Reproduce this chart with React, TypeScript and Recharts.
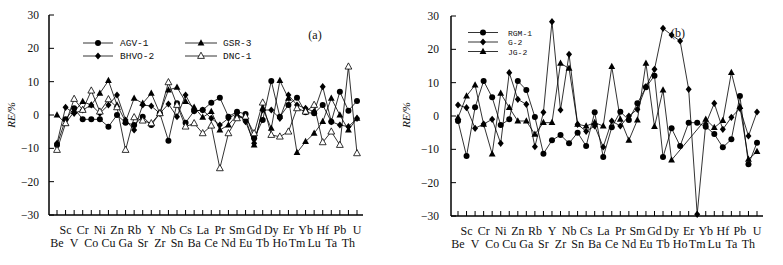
import React from "react";
import { LineChart, Line, XAxis, YAxis } from "recharts";

const ELEMENTS = ["Be", "Sc", "V", "Cr", "Co", "Ni", "Cu", "Zn", "Ga", "Rb", "Sr", "Y", "Zr", "Nb", "Sn", "Cs", "Ba", "La", "Ce", "Pr", "Nd", "Sm", "Eu", "Gd", "Tb", "Dy", "Ho", "Er", "Tm", "Yb", "Lu", "Hf", "Ta", "Pb", "Th", "U"];
const Y_TICKS = [-30, -20, -10, 0, 10, 20, 30];

// panel (a)
const AGV1 = [-9, -1.3, 2, -1.3, -1.3, -1.3, -3.5, 0, -2.3, -3, -0.5, -3, 0.5, -7.7, 3.5, -2.3, 1.2, 1.5, 3.7, 5.2, -0.5, 1, 0.3, -7, -1.5, 10.2, -0.5, 3, 5.2, 0.8, 0.5, 3, -2, 7, 1.3, 4.2];
const BHVO2 = [-8.5, 2.3, 0.5, 1.5, 3, 0.5, 3, 6, -1.5, -4.5, 3, 2.7, 0.5, 3.3, -0.5, 6, 1.2, 1.5, -1, -3, -1, 0.5, -2, -8.5, 1.5, 1.5, -1, 6, 3, 2, 1, 8.5, -2, -3, -3.5, -1];
const GSR3 = [0, -2.5, 1, 4, 3, 6.5, 10.3, 3, -2, 5, 3.5, 6.5, 0.5, 7.5, 8.3, 4, 2.3, -0.7, 1, -4.5, -3, 0, -1, -9, 2, -4, 10.3, 5, -11.3, -8, -5.5, -2, 5, 0, -4.5, -1];
const DNC1 = [-10.5, -2.5, 4.8, 1.5, 7.3, 1, 4.7, 2.3, -10.5, -0.7, -1.7, -2.5, 0.5, 9.8, 3, -3.5, -2.5, -5.5, -3.2, -16, -5.5, -1, -0.5, -5.5, 3.7, -6, -6.5, -5, 2, 1, 3, -8.2, -5, -9, 14.5, -11.5];

// panel (b)
const RGM1 = [-1.5, -12, 2.6, 10.5, 5.6, -2.7, -1, 10.5, 7.8, -0.3, -11.3, -7.3, -5.7, -8.2, -5, -9, 1.1, -12.3, -3.4, 1.3, -1.2, 3.8, 8.6, 12.1, -12.3, -3.7, -9, -2, -2, -3.2, -5.4, -9.4, -7, 6, -14.5, -8];
const G2 = [3.3, 2.5, -3.7, -2.4, -1, -8.2, 13, 5, 3.5, -9.2, 1.1, 28.3, 1.8, 18.5, -2.5, -4.6, -3, -9.3, -1.5, -3, 0, 2, 8.8, 14, 26.3, 24.3, 22.5, 8, -29.5, -2.4, 3.8, -4, -0.4, 2.3, -6, 1.2];
const JG2 = [-0.5, 6, 9.3, -2.5, -11.4, 6.8, 2.5, -1.5, -1.5, -5.5, -2, -2, 15.8, 14.3, -2.5, -3, -2, -3, 14.8, -1, -7.3, -1.2, 15.8, -3.2, 7.8, -13.2, null, null, null, -1, -3.5, -1.4, 13, 2.8, -13, -10.7];

type Shape = "circle" | "diamond" | "tri" | "openTri";

interface SeriesDef {
  key: string;
  name: string;
  shape: Shape;
  values: (number | null)[];
}

const seriesA: SeriesDef[] = [
  { key: "agv", name: "AGV-1", shape: "circle", values: AGV1 },
  { key: "bhvo", name: "BHVO-2", shape: "diamond", values: BHVO2 },
  { key: "gsr", name: "GSR-3", shape: "tri", values: GSR3 },
  { key: "dnc", name: "DNC-1", shape: "openTri", values: DNC1 },
];

const seriesB: SeriesDef[] = [
  { key: "rgm", name: "RGM-1", shape: "circle", values: RGM1 },
  { key: "g2", name: "G-2", shape: "diamond", values: G2 },
  { key: "jg2", name: "JG-2", shape: "tri", values: JG2 },
];

const buildRows = (series: SeriesDef[]) =>
  ELEMENTS.map((el, i) => {
    const row: Record<string, string | number | null> = { el };
    series.forEach((s) => (row[s.key] = s.values[i]));
    return row;
  });

const marker = (shape: Shape, cx: number, cy: number, key: string) => {
  if (shape === "circle") return <circle key={key} cx={cx} cy={cy} r={3} fill="#000" />;
  if (shape === "diamond")
    return <polygon key={key} points={`${cx},${cy - 3.6} ${cx + 3},${cy} ${cx},${cy + 3.6} ${cx - 3},${cy}`} fill="#000" />;
  const pts = `${cx},${cy - 3.8} ${cx + 3.4},${cy + 2.4} ${cx - 3.4},${cy + 2.4}`;
  if (shape === "tri") return <polygon key={key} points={pts} fill="#000" />;
  return <polygon key={key} points={pts} fill="#fff" stroke="#000" strokeWidth={0.8} />;
};

const makeDot = (shape: Shape, id: string) => (props: any) => {
  const { cx, cy, index } = props;
  if (cx == null || cy == null || props.value == null) return <g key={`${id}-${index}`} />;
  return marker(shape, cx, cy, `${id}-${index}`);
};

const XTick = (props: any) => {
  const { x, y, payload, index } = props;
  const top = index % 2 === 1;
  return (
    <g>
      <line x1={x} y1={y} x2={x} y2={y - 5} stroke="#000" strokeWidth={1} />
      <text x={x} y={y + (top ? 19 : 32)} textAnchor="middle" fontSize={12} fontFamily="Liberation Serif" fill="#111">
        {payload.value}
      </text>
    </g>
  );
};

const makeYTick = (gap: number) => (props: any) => {
  const { x, y, payload } = props;
  const v = payload.value as number;
  return (
    <g>
      <line x1={x} y1={y} x2={x + 5} y2={y} stroke="#000" strokeWidth={1} />
      <text x={x - gap} y={y + 4} textAnchor="end" fontSize={11.5} fontFamily="Liberation Serif" fill="#111">
        {v < 0 ? `\u2212${-v}` : v}
      </text>
    </g>
  );
};

interface LegendRow {
  shape: Shape;
  name: string;
  x1: number;
  x2: number;
  y: number;
  tx: number;
}

interface PanelProps {
  left: number;
  width: number;
  plotLeft: number;
  plotRight: number;
  plotTop: number;
  plotBottom: number;
  padL: number;
  padR: number;
  labelGap: number;
  series: SeriesDef[];
  tag: string;
  tagX: number;
  tagY: number;
  legend: LegendRow[];
  legendFont: number;
  yLabelX: number;
}

const Panel = (p: PanelProps) => {
  const data = buildRows(p.series);
  const H = 265;
  return (
    <div style={{ position: "absolute", left: p.left, top: 0, width: p.width, height: H }}>
      <LineChart
        width={p.width}
        height={H}
        data={data}
        margin={{ top: p.plotTop, right: p.width - p.plotRight, bottom: 0, left: 0 }}
      >
        <XAxis
          dataKey="el"
          interval={0}
          height={H - p.plotBottom}
          padding={{ left: p.padL, right: p.padR }}
          tickSize={0}
          tickMargin={0}
          tickLine={false}
          tick={XTick}
          axisLine={{ stroke: "#000", strokeWidth: 1.5 }}
        />
        <XAxis
          xAxisId="top"
          dataKey="el"
          orientation="top"
          height={0}
          tick={false}
          tickLine={false}
          axisLine={{ stroke: "#000", strokeWidth: 1.5 }}
        />
        <YAxis
          type="number"
          domain={[-30, 30]}
          ticks={Y_TICKS}
          width={p.plotLeft}
          tickSize={0}
          tickMargin={0}
          tickLine={false}
          tick={makeYTick(p.labelGap)}
          axisLine={{ stroke: "#000", strokeWidth: 1.5 }}
        />
        <YAxis
          yAxisId="right"
          orientation="right"
          domain={[-30, 30]}
          width={0}
          tick={false}
          tickLine={false}
          axisLine={{ stroke: "#000", strokeWidth: 1.5 }}
        />
        {p.series.map((s) => (
          <Line
            key={s.key}
            dataKey={s.key}
            name={s.name}
            type="linear"
            stroke="#000"
            strokeWidth={0.8}
            dot={makeDot(s.shape, s.key)}
            activeDot={false}
            connectNulls
            isAnimationActive={false}
          />
        ))}
      </LineChart>
      <svg
        width={p.width}
        height={H}
        style={{ position: "absolute", left: 0, top: 0, pointerEvents: "none" }}
      >
        {p.legend.map((r, i) => (
          <g key={i}>
            <line x1={r.x1} y1={r.y} x2={r.x2} y2={r.y} stroke="#000" strokeWidth={0.8} />
            {marker(r.shape, (r.x1 + r.x2) / 2, r.y, `lg-${i}`)}
            <text x={r.tx} y={r.y + 3} fontSize={p.legendFont} fontFamily="Liberation Mono" fill="#111">
              {r.name}
            </text>
          </g>
        ))}
        <text x={p.tagX} y={p.tagY} textAnchor="middle" fontSize={12} fontFamily="Liberation Serif" fill="#111">
          {p.tag}
        </text>
        <text
          x={p.yLabelX}
          y={115}
          transform={`rotate(-90 ${p.yLabelX} 115)`}
          textAnchor="middle"
          fontSize={11}
          fontStyle="italic"
          fontFamily="Liberation Serif"
          fill="#111"
        >
          RE/%
        </text>
      </svg>
    </div>
  );
};

export default function App() {
  return (
    <div style={{ position: "absolute", left: 0, top: 0, width: 783, height: 265, background: "#fff" }}>
      <Panel
        left={0}
        width={390}
        plotLeft={49}
        plotRight={363}
        plotTop={15}
        plotBottom={215}
        padL={8}
        padR={6}
        labelGap={10}
        series={seriesA}
        tag="(a)"
        tagX={315}
        tagY={39}
        yLabelX={15}
        legendFont={9.5}
        legend={[
          { shape: "circle", name: "AGV-1", x1: 83, x2: 113, y: 43, tx: 120 },
          { shape: "diamond", name: "BHVO-2", x1: 83, x2: 113, y: 56, tx: 120 },
          { shape: "tri", name: "GSR-3", x1: 185, x2: 217, y: 43, tx: 223 },
          { shape: "openTri", name: "DNC-1", x1: 185, x2: 217, y: 56, tx: 223 },
        ]}
      />
      <Panel
        left={390}
        width={393}
        plotLeft={61}
        plotRight={373}
        plotTop={16}
        plotBottom={216}
        padL={7}
        padR={6}
        labelGap={12}
        series={seriesB}
        tag="(b)"
        tagX={288}
        tagY={37}
        yLabelX={20}
        legendFont={8}
        legend={[
          { shape: "circle", name: "RGM-1", x1: 78, x2: 108, y: 32.5, tx: 118 },
          { shape: "diamond", name: "G-2", x1: 78, x2: 108, y: 42, tx: 118 },
          { shape: "tri", name: "JG-2", x1: 78, x2: 108, y: 51.5, tx: 118 },
        ]}
      />
    </div>
  );
}
